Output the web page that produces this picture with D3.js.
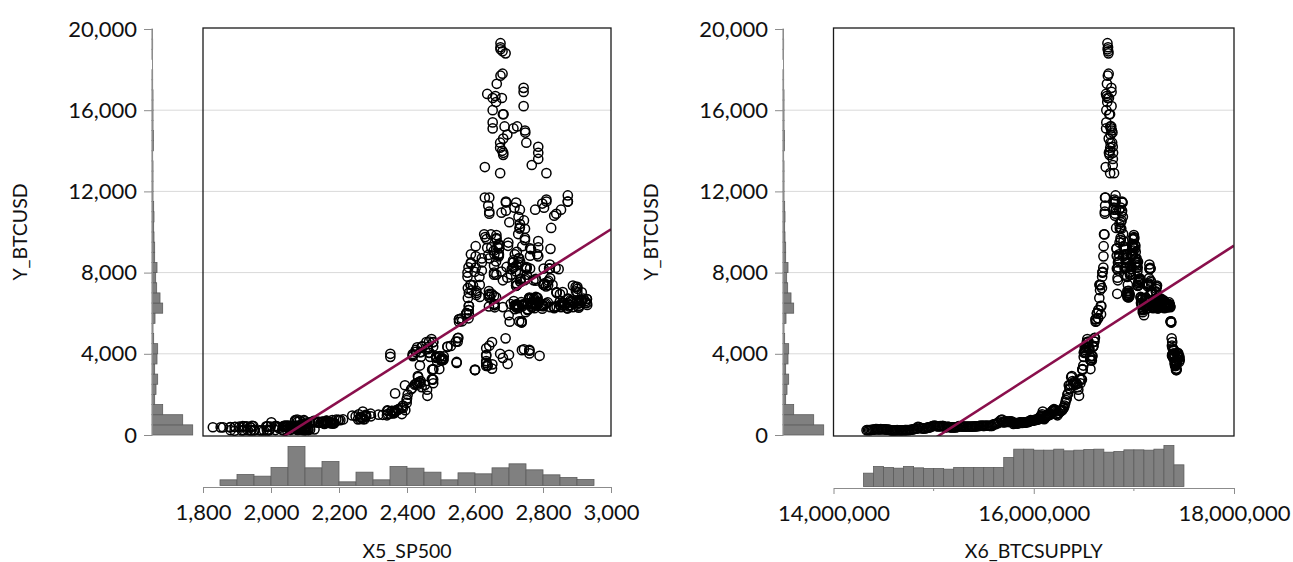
<!DOCTYPE html>
<html>
<head>
<meta charset="utf-8">
<script src="https://cdn.jsdelivr.net/npm/d3@7"></script>
<style>
    body { margin: 0; background: #fff; }
    svg { display: block; }
</style>
</head>
<body>
<div id="container"><svg></svg></div>
<script>
let width = 1293
let height = 562
let fontFamily = 'Lato'

// observations: [btc supply (millions of coins), S&P 500, BTC/USD]
let obs = [
    [14.330, 2096, 236], [14.343, 2100, 246], [14.356, 2110, 244], [14.369, 2102, 243], [14.382, 2058, 257],
    [14.395, 2077, 260], [14.408, 2046, 269], [14.421, 2077, 293], [14.434, 2108, 286], [14.447, 2128, 278],
    [14.460, 2115, 276], [14.473, 2090, 289], [14.486, 2109, 284], [14.498, 2104, 283],
    [14.508, 2099, 282], [14.521, 2083, 279], [14.534, 2104, 263], [14.547, 2091, 264], [14.560, 2079, 254],
    [14.573, 2035, 233], [14.586, 1893, 210], [14.595, 1940, 222], [14.605, 1988, 229], [14.612, 1972, 230],
    [14.622, 1914, 228], [14.635, 1951, 240], [14.648, 1942, 235], [14.661, 1979, 229], [14.674, 1995, 232],
    [14.687, 1966, 230], [14.700, 1932, 235], [14.713, 1881, 238], [14.720, 1920, 236],
    [14.730, 1951, 238], [14.743, 1995, 246], [14.756, 2013, 244], [14.769, 1994, 255], [14.782, 2033, 264],
    [14.795, 2075, 284], [14.808, 2065, 294], [14.821, 2089, 314], [14.833, 2079, 312],
    [14.843, 2102, 402], [14.856, 2099, 385], [14.869, 2081, 337], [14.882, 2023, 336], [14.895, 2051, 318],
    [14.908, 2089, 326], [14.921, 2086, 323], [14.934, 2090, 357], [14.942, 2080, 378],
    [14.952, 2102, 363], [14.965, 2049, 389], [14.978, 2047, 415], [14.991, 2012, 433], [15.004, 2043, 462],
    [15.017, 2038, 455], [15.030, 2060, 439], [15.043, 2078, 422], [15.055, 2044, 430],
    [15.065, 2016, 433], [15.078, 1990, 431], [15.091, 1944, 452], [15.104, 1922, 431], [15.117, 1880, 386],
    [15.130, 1859, 380], [15.143, 1907, 408], [15.156, 1893, 394], [15.168, 1940, 379],
    [15.178, 1939, 372], [15.191, 1913, 376], [15.204, 1880, 379], [15.217, 1852, 377], [15.228, 1829, 381],
    [15.240, 1895, 403], [15.253, 1917, 438], [15.263, 1929, 423], [15.273, 1948, 436],
    [15.283, 1986, 424], [15.296, 1999, 410], [15.309, 1989, 412], [15.322, 2019, 415], [15.335, 2040, 418],
    [15.348, 2049, 418], [15.361, 2035, 414], [15.374, 2056, 416], [15.386, 2063, 416],
    [15.396, 2066, 419], [15.409, 2041, 421], [15.422, 2061, 424], [15.435, 2082, 431], [15.448, 2102, 443],
    [15.461, 2091, 447], [15.474, 2095, 460], [15.487, 2075, 455], [15.495, 2065, 450],
    [15.505, 2081, 448], [15.518, 2051, 460], [15.531, 2058, 455], [15.544, 2064, 457], [15.557, 2047, 454],
    [15.570, 2040, 443], [15.583, 2076, 447], [15.596, 2090, 528], [15.608, 2097, 530],
    [15.618, 2105, 537], [15.631, 2099, 575], [15.644, 2116, 581], [15.657, 2079, 665], [15.670, 2071, 730],
    [15.683, 2077, 763], [15.696, 2113, 628], [15.706, 2001, 623], [15.716, 2071, 672],
    [15.724, 2099, 677], [15.734, 2129, 650], [15.744, 2137, 649], [15.752, 2152, 650], [15.760, 2163, 668],
    [15.768, 2173, 664], [15.775, 2165, 658], [15.783, 2166, 655], [15.790, 2174, 624],
    [15.797, 2157, 547], [15.804, 2182, 588], [15.811, 2181, 592], [15.818, 2185, 586], [15.825, 2186, 575],
    [15.832, 2178, 581], [15.839, 2182, 577], [15.846, 2175, 575],
    [15.855, 2180, 598], [15.862, 2127, 621], [15.869, 2147, 606], [15.876, 2139, 610], [15.883, 2164, 597],
    [15.890, 2163, 603], [15.897, 2146, 606], [15.904, 2168, 608],
    [15.912, 2161, 612], [15.919, 2153, 617], [15.926, 2163, 637], [15.933, 2133, 640], [15.940, 2140, 630],
    [15.947, 2141, 651], [15.954, 2151, 657], [15.961, 2126, 703],
    [15.970, 2097, 730], [15.977, 2085, 710], [15.984, 2163, 706], [15.991, 2164, 702], [15.998, 2180, 737],
    [16.005, 2198, 739], [16.012, 2204, 733], [16.019, 2199, 742],
    [16.026, 2192, 764], [16.033, 2212, 766], [16.040, 2256, 770], [16.047, 2271, 781], [16.054, 2262, 790],
    [16.061, 2263, 871], [16.068, 2249, 922], [16.075, 2239, 961],
    [16.083, 2258, 1020], [16.090, 2270, 1150], [16.097, 2277, 905], [16.104, 2275, 780], [16.111, 2268, 830],
    [16.118, 2264, 895], [16.125, 2280, 925], [16.132, 2294, 920], [16.136, 2279, 968],
    [16.142, 2279, 990], [16.149, 2293, 1050], [16.156, 2316, 1000], [16.163, 2329, 995], [16.170, 2351, 1050],
    [16.177, 2365, 1120], [16.184, 2364, 1175], [16.189, 2363, 1190],
    [16.195, 2395, 1225], [16.202, 2375, 1270], [16.209, 2364, 1180], [16.216, 2373, 1240], [16.223, 2385, 1030],
    [16.230, 2344, 1040], [16.237, 2341, 970], [16.244, 2362, 1070],
    [16.252, 2359, 1080], [16.259, 2355, 1190], [16.266, 2356, 1180], [16.273, 2344, 1190], [16.280, 2342, 1210],
    [16.287, 2374, 1240], [16.294, 2388, 1325], [16.301, 2384, 1350],
    [16.308, 2388, 1450], [16.315, 2399, 1580], [16.322, 2399, 1720], [16.329, 2400, 1800], [16.336, 2402, 1990],
    [16.343, 2365, 2050], [16.350, 2394, 2450], [16.357, 2415, 2300], [16.361, 2412, 2250],
    [16.367, 2431, 2480], [16.374, 2433, 2850], [16.381, 2432, 2900], [16.388, 2440, 2660], [16.395, 2453, 2470],
    [16.402, 2435, 2610], [16.409, 2439, 2570], [16.416, 2423, 2480],
    [16.424, 2429, 2560], [16.431, 2425, 2510], [16.438, 2443, 2360], [16.445, 2459, 2230], [16.452, 2460, 1930],
    [16.459, 2473, 2750], [16.466, 2477, 2550], [16.473, 2475, 2740],
    [16.481, 2477, 2730], [16.488, 2474, 3220], [16.495, 2438, 3420], [16.502, 2464, 4050], [16.509, 2430, 4320],
    [16.516, 2438, 4080], [16.523, 2444, 4350], [16.530, 2457, 4580], [16.535, 2472, 4730],
    [16.540, 2477, 4570], [16.547, 2465, 4600], [16.554, 2461, 4230], [16.561, 2496, 3870], [16.566, 2495, 3250],
    [16.573, 2503, 3690], [16.580, 2508, 3880], [16.587, 2497, 3890], [16.591, 2519, 4340],
    [16.597, 2529, 4390], [16.604, 2544, 4600], [16.611, 2551, 4790], [16.618, 2553, 5580], [16.625, 2562, 5600],
    [16.632, 2575, 5990], [16.639, 2560, 5750], [16.646, 2581, 6150],
    [16.655, 2579, 6750], [16.662, 2590, 7130], [16.669, 2594, 7380], [16.675, 2582, 6350], [16.681, 2579, 7240],
    [16.688, 2599, 8040], [16.695, 2602, 8250], [16.702, 2627, 9890], [16.706, 2647, 9880],
    [16.710, 2642, 10900], [16.713, 2639, 11300], [16.716, 2629, 11700], [16.719, 2629, 13200], [16.722, 2636, 16800],
    [16.725, 2652, 16000], [16.728, 2660, 16700], [16.731, 2664, 17300], [16.734, 2662, 16400], [16.737, 2652, 16600],
    [16.740, 2675, 17700], [16.742, 2675, 19100], [16.744, 2681, 18900], [16.746, 2690, 18800], [16.748, 2681, 17800],
    [16.751, 2679, 16600], [16.754, 2684, 15800], [16.757, 2683, 13800], [16.760, 2680, 14000], [16.762, 2682, 15800],
    [16.764, 2687, 15200], [16.766, 2674, 14400],
    [16.768, 2695, 14800], [16.771, 2713, 15100], [16.774, 2724, 15200], [16.777, 2743, 16900], [16.780, 2747, 15000],
    [16.783, 2751, 14400], [16.786, 2748, 14900], [16.789, 2767, 13300], [16.792, 2786, 13900], [16.797, 2777, 11100],
    [16.800, 2803, 11200], [16.803, 2798, 11400], [16.806, 2810, 11600], [16.811, 2833, 10800], [16.814, 2839, 10900],
    [16.817, 2873, 11500], [16.820, 2853, 11100], [16.823, 2824, 10200],
    [16.826, 2822, 9170], [16.829, 2762, 8830], [16.834, 2649, 6955], [16.837, 2695, 7750], [16.840, 2682, 7620],
    [16.843, 2581, 8260], [16.846, 2620, 8700], [16.851, 2657, 8900], [16.854, 2662, 8550], [16.857, 2698, 9480],
    [16.860, 2731, 10170], [16.863, 2732, 10230], [16.868, 2716, 11200], [16.871, 2701, 10480], [16.874, 2747, 10160],
    [16.877, 2744, 10570],
    [16.879, 2678, 10950], [16.882, 2691, 11050], [16.887, 2721, 11450], [16.890, 2728, 10750], [16.893, 2727, 9900],
    [16.896, 2739, 9300], [16.899, 2786, 9240], [16.904, 2783, 8900], [16.907, 2765, 9150], [16.910, 2750, 8200],
    [16.913, 2748, 8250], [16.916, 2752, 8270], [16.921, 2712, 8600], [16.924, 2717, 8900], [16.927, 2643, 8700],
    [16.930, 2588, 8900], [16.933, 2613, 7790], [16.935, 2641, 7090],
    [16.937, 2582, 7000], [16.940, 2614, 7400], [16.943, 2644, 6800], [16.946, 2662, 6780], [16.949, 2604, 6900],
    [16.952, 2614, 6800], [16.955, 2656, 6850], [16.958, 2642, 6950], [16.961, 2663, 7900], [16.964, 2656, 7900],
    [16.967, 2678, 8050], [16.970, 2706, 7900], [16.973, 2708, 8170], [16.976, 2693, 8280], [16.979, 2670, 8860],
    [16.982, 2670, 8930], [16.985, 2634, 9650], [16.988, 2639, 8870], [16.990, 2666, 9280], [16.992, 2648, 9240],
    [16.995, 2655, 9080], [16.998, 2636, 9220], [17.001, 2630, 9750], [17.004, 2663, 9700], [17.009, 2672, 9370],
    [17.012, 2671, 9190], [17.015, 2697, 9320], [17.018, 2723, 9020], [17.021, 2728, 8400], [17.026, 2730, 8700],
    [17.029, 2711, 8500], [17.032, 2722, 8350], [17.035, 2720, 8060], [17.038, 2713, 8240], [17.041, 2733, 8530],
    [17.044, 2733, 7560], [17.047, 2721, 7480], [17.050, 2724, 7400],
    [17.053, 2734, 7540], [17.056, 2746, 7630], [17.059, 2749, 7700], [17.062, 2772, 7620], [17.065, 2779, 7690],
    [17.068, 2783, 6770], [17.071, 2786, 6500], [17.074, 2775, 6640], [17.077, 2780, 6400], [17.080, 2774, 6730],
    [17.083, 2762, 6720], [17.086, 2767, 6750], [17.089, 2749, 6050], [17.092, 2755, 6180], [17.095, 2717, 6200],
    [17.098, 2723, 6270], [17.101, 2699, 5900], [17.104, 2716, 6390], [17.107, 2718, 6400],
    [17.110, 2727, 6350], [17.113, 2714, 6600], [17.116, 2736, 6550], [17.119, 2760, 6770], [17.122, 2784, 6740],
    [17.125, 2794, 6360], [17.128, 2775, 6250], [17.131, 2798, 6220], [17.134, 2801, 6360], [17.137, 2798, 6390],
    [17.140, 2809, 7320], [17.143, 2815, 7380], [17.146, 2804, 7470], [17.149, 2802, 7400], [17.152, 2821, 7720],
    [17.155, 2820, 8400], [17.158, 2846, 8170], [17.161, 2837, 8230], [17.164, 2818, 8200], [17.166, 2802, 8200],
    [17.168, 2816, 7600], [17.171, 2813, 7530], [17.174, 2828, 7400], [17.177, 2840, 7030], [17.180, 2850, 6940],
    [17.183, 2858, 7040], [17.186, 2857, 6540], [17.189, 2853, 6300], [17.192, 2833, 6250], [17.195, 2821, 6300],
    [17.198, 2840, 6320], [17.201, 2850, 6590], [17.204, 2857, 6390], [17.207, 2862, 6490], [17.210, 2857, 6480],
    [17.213, 2862, 6380], [17.216, 2874, 6720], [17.219, 2897, 7080], [17.222, 2914, 7030],
    [17.225, 2901, 7030], [17.228, 2896, 7300], [17.231, 2888, 7360], [17.234, 2878, 6400], [17.237, 2872, 6500],
    [17.240, 2877, 6330], [17.243, 2871, 6240], [17.246, 2888, 6300], [17.249, 2904, 6330], [17.252, 2905, 6270],
    [17.255, 2888, 6500], [17.258, 2904, 6490], [17.261, 2907, 6370], [17.264, 2930, 6410], [17.267, 2929, 6500],
    [17.270, 2919, 6720], [17.273, 2906, 6590], [17.276, 2905, 6480], [17.279, 2914, 6660], [17.281, 2914, 6600],
    [17.284, 2924, 6590], [17.287, 2925, 6520], [17.290, 2901, 6580], [17.293, 2885, 6570], [17.296, 2884, 6600],
    [17.299, 2880, 6630], [17.302, 2785, 6560], [17.305, 2728, 6250], [17.308, 2767, 6310], [17.311, 2750, 6470],
    [17.314, 2809, 6480], [17.317, 2768, 6490], [17.320, 2768, 6460], [17.323, 2755, 6500], [17.326, 2741, 6430],
    [17.329, 2656, 6460], [17.332, 2705, 6450], [17.335, 2658, 6290], [17.337, 2641, 6330], [17.339, 2682, 6300],
    [17.341, 2740, 6350], [17.344, 2723, 6390], [17.347, 2738, 6410], [17.350, 2756, 6440], [17.353, 2814, 6530],
    [17.356, 2806, 6430], [17.359, 2781, 6380], [17.362, 2727, 6330], [17.365, 2722, 6300], [17.368, 2702, 5580],
    [17.371, 2730, 5600], [17.374, 2737, 5540], [17.377, 2690, 4760], [17.380, 2642, 4400], [17.383, 2650, 4580],
    [17.386, 2633, 4270], [17.389, 2674, 4000], [17.392, 2682, 3800], [17.395, 2744, 4220], [17.398, 2738, 4180],
    [17.401, 2760, 4020],
    [17.404, 2790, 3900], [17.406, 2700, 3950], [17.409, 2696, 3500], [17.412, 2633, 3400], [17.415, 2637, 3450],
    [17.418, 2637, 3400], [17.421, 2651, 3480], [17.424, 2650, 3270], [17.427, 2600, 3200], [17.430, 2546, 3550],
    [17.433, 2546, 3600], [17.436, 2507, 3750], [17.439, 2467, 4050], [17.442, 2417, 3880], [17.445, 2351, 4000],
    [17.447, 2351, 3850], [17.450, 2468, 3850], [17.452, 2489, 3600], [17.455, 2486, 3850], [17.458, 2507, 3700]
]

// weekend observations (S&P 500 carried from the Friday close)
let obsWeekend = [
    [16.486, 2477, 3250], [16.487, 2477, 3220], [16.499, 2441, 3850], [16.501, 2441, 4080], [16.512, 2426, 4190],
    [16.514, 2426, 4090], [16.525, 2444, 4350], [16.527, 2444, 4360],
    [16.539, 2477, 4580], [16.541, 2477, 4350], [16.552, 2461, 4330], [16.554, 2461, 4250], [16.565, 2500, 3700],
    [16.567, 2500, 3700], [16.578, 2502, 3780], [16.580, 2502, 3670], [16.592, 2519, 4360],
    [16.604, 2549, 4600], [16.606, 2549, 4770], [16.617, 2553, 5700], [16.619, 2553, 5700], [16.631, 2575, 6000],
    [16.633, 2575, 6000], [16.644, 2581, 5750], [16.646, 2581, 6150],
    [16.657, 2587, 7400], [16.659, 2587, 7400], [16.670, 2582, 6360], [16.672, 2582, 5950], [16.683, 2578, 7800],
    [16.685, 2578, 8000], [16.696, 2602, 8800], [16.698, 2602, 9300],
    [16.710, 2642, 11000], [16.712, 2642, 11700], [16.723, 2652, 15100], [16.725, 2652, 15400], [16.736, 2675, 19300],
    [16.738, 2675, 19000], [16.749, 2683, 14600], [16.751, 2683, 13900], [16.763, 2674, 12900], [16.764, 2674, 14150],
    [16.775, 2743, 17100], [16.777, 2743, 16200], [16.789, 2786, 14200], [16.790, 2786, 13600], [16.802, 2810, 12900],
    [16.804, 2810, 11500], [16.815, 2873, 11500], [16.817, 2873, 11800],
    [16.828, 2762, 9200], [16.830, 2762, 8200], [16.841, 2620, 8500], [16.843, 2620, 8100], [16.854, 2732, 11100],
    [16.856, 2732, 10400], [16.867, 2747, 9700], [16.869, 2747, 9600],
    [16.881, 2691, 11500], [16.883, 2691, 11450], [16.894, 2786, 8800], [16.896, 2786, 9550], [16.907, 2752, 7900],
    [16.909, 2752, 8200], [16.920, 2588, 8500], [16.922, 2588, 8450], [16.933, 2641, 6900],
    [16.935, 2641, 6800], [16.946, 2604, 7000], [16.948, 2604, 7100], [16.959, 2656, 8000], [16.961, 2656, 8350],
    [16.973, 2670, 8900], [16.975, 2670, 8800], [16.986, 2669, 9350], [16.988, 2669, 9400],
    [17.000, 2663, 9850], [17.001, 2663, 9650], [17.013, 2728, 8500], [17.015, 2728, 8700], [17.026, 2713, 8250],
    [17.028, 2713, 8500], [17.039, 2721, 7350], [17.041, 2721, 7360],
    [17.052, 2734, 7650], [17.054, 2734, 7700], [17.065, 2779, 7600], [17.067, 2779, 6800], [17.078, 2780, 6500],
    [17.080, 2780, 6450], [17.091, 2755, 6150], [17.093, 2755, 6200], [17.105, 2718, 6380],
    [17.107, 2718, 6350], [17.118, 2759, 6750], [17.120, 2759, 6700], [17.131, 2801, 6350], [17.133, 2801, 6400],
    [17.145, 2802, 7400], [17.147, 2802, 7400], [17.158, 2819, 8200], [17.160, 2819, 8200],
    [17.171, 2840, 7030], [17.173, 2840, 7000], [17.184, 2833, 6300], [17.186, 2833, 6320], [17.197, 2850, 6590],
    [17.199, 2850, 6400], [17.210, 2874, 6700], [17.212, 2874, 6700],
    [17.223, 2901, 7200], [17.225, 2901, 7300], [17.236, 2872, 6250], [17.238, 2872, 6250], [17.249, 2905, 6500],
    [17.251, 2905, 6500], [17.263, 2929, 6700], [17.264, 2929, 6700], [17.276, 2914, 6600], [17.278, 2914, 6620],
    [17.289, 2885, 6600], [17.291, 2885, 6600], [17.303, 2767, 6300], [17.304, 2767, 6300], [17.316, 2768, 6480],
    [17.318, 2768, 6490], [17.329, 2658, 6400], [17.331, 2658, 6400],
    [17.342, 2723, 6400], [17.344, 2723, 6450], [17.355, 2781, 6380], [17.357, 2781, 6410], [17.368, 2737, 5600],
    [17.370, 2737, 5560], [17.381, 2633, 3900], [17.383, 2633, 3950],
    [17.395, 2760, 4200], [17.397, 2760, 4150], [17.408, 2633, 3550], [17.410, 2633, 3640], [17.421, 2600, 3200],
    [17.423, 2600, 3220], [17.435, 2417, 3990], [17.436, 2417, 3930], [17.448, 2486, 3870], [17.450, 2486, 3800]
]

// axis ticks
let yTicks = [0, 4000, 8000, 12000, 16000, 20000]
let spTicks = [1800, 2000, 2200, 2400, 2600, 2800, 3000]
let supplyTicks = [14000000, 16000000, 18000000]
let supplyMinorTicks = [15000000, 17000000]

// marginal histograms (counts)
let btcBinStart = 0, btcBinWidth = 500
let btcHist = [122, 92, 32, 8, 12, 17, 8, 15, 17, 5, 3, 9, 32, 24, 14, 11, 15, 8, 8, 6, 5, 6, 5, 3,
               3, 3, 3, 2, 4, 4, 3, 3, 3, 3, 2, 2, 0, 1, 2, 1]
let spBinStart = 1850, spBinWidth = 50
let spHist = [17, 33, 28, 54, 117, 53, 72, 11, 40, 17, 57, 52, 40, 17, 38, 35, 53, 65, 47, 32, 24, 18]
let supplyBinStart = 14300000, supplyBinWidth = 100000
let supplyHist = [40, 60, 57, 55, 60, 56, 54, 54, 52, 57, 57, 57, 57, 57, 87, 112, 112, 109, 109, 112,
                  107, 109, 111, 112, 103, 105, 110, 110, 109, 112, 123, 65]

// fitted lines [intercept, slope]
let fitSP500 = [-21666, 10.60]
let fitSupply = [-47822, 3175]   // slope per million coins

let allObs = obs.concat(obsWeekend)

let svg = d3.select('#container').select('svg')
    .attr('width', width)
    .attr('height', height)
    .style('font-family', fontFamily)

let y = d3.scaleLinear().domain([0, 20000]).range([435, 29])
let boxTop = 28, boxBottom = 436

function draw_panel(p) {
    let g = svg.append('g')
    let x = d3.scaleLinear().domain(p.xDomain).range([p.boxLeft, p.boxRight])

    // gridlines
    g.append('g').selectAll('line')
        .data(yTicks.filter(d => d > 0 && d < 20000))
        .enter().append('line')
        .attr('x1', p.axisX).attr('x2', p.boxRight)
        .attr('y1', d => y(d)).attr('y2', d => y(d))
        .attr('stroke', '#d9d9d9').attr('stroke-width', 1)

    // y marginal histogram
    let hy = d3.scaleLinear().domain([0, d3.max(btcHist)]).range([0, 40.7])
    g.append('g').selectAll('rect')
        .data(btcHist)
        .enter().append('rect')
        .attr('x', p.axisX)
        .attr('y', (d, i) => y(btcBinStart + (i + 1) * btcBinWidth))
        .attr('width', d => hy(d))
        .attr('height', (d, i) => y(btcBinStart + i * btcBinWidth) - y(btcBinStart + (i + 1) * btcBinWidth))
        .attr('fill', '#808080')
        .attr('stroke', d => d > 0 ? '#5c5c5c' : 'none')
        .attr('stroke-width', 0.8)

    // y axis
    let axis_y = d3.axisLeft(y).tickValues(yTicks).tickSize(8).tickSizeOuter(0).tickPadding(7)
        .tickFormat(d3.format(','))
    let ay = g.append('g')
        .attr('transform', `translate(${p.axisX}, 0)`)
        .call(axis_y)
        .attr('font-family', fontFamily)
        .attr('font-size', '22px')
    ay.select('.domain').attr('stroke', '#8c8c8c')
    ay.selectAll('.tick line').attr('stroke', '#8c8c8c')
    ay.selectAll('.tick text').attr('fill', '#111')

    g.append('text')
        .attr('transform', `translate(${p.axisX - 125}, ${(y(0) + y(20000)) / 2}) rotate(-90)`)
        .attr('text-anchor', 'middle')
        .attr('font-size', '19.5px')
        .attr('fill', '#111')
        .text('Y_BTCUSD')

    // x marginal histogram
    let hx = d3.scaleLinear().domain([0, d3.max(p.hist)]).range([0, p.histMax])
    g.append('g').selectAll('rect')
        .data(p.hist)
        .enter().append('rect')
        .attr('x', (d, i) => x(p.binStart + i * p.binWidth))
        .attr('y', d => p.axisY - 1.5 - hx(d))
        .attr('width', (d, i) => x(p.binStart + (i + 1) * p.binWidth) - x(p.binStart + i * p.binWidth))
        .attr('height', d => hx(d))
        .attr('fill', '#808080')
        .attr('stroke', '#5c5c5c')
        .attr('stroke-width', 0.8)

    // x axis
    let axis_x = d3.axisBottom(x).tickValues(p.ticks).tickSize(6).tickSizeOuter(0).tickPadding(11.5)
        .tickFormat(d3.format(','))
    let ax = g.append('g')
        .attr('transform', `translate(0, ${p.axisY})`)
        .call(axis_x)
        .attr('font-family', fontFamily)
        .attr('font-size', '22px')
    ax.select('.domain').attr('stroke', '#8c8c8c')
    ax.selectAll('.tick line').attr('stroke', '#8c8c8c')
    ax.selectAll('.tick text').attr('fill', '#111')
    ax.selectAll('.minor')
        .data(p.minorTicks)
        .enter().append('line')
        .attr('class', 'minor')
        .attr('x1', d => x(d)).attr('x2', d => x(d))
        .attr('y1', 0).attr('y2', 3)
        .attr('stroke', '#8c8c8c')

    g.append('text')
        .attr('x', (p.boxLeft + p.boxRight) / 2)
        .attr('y', 558)
        .attr('text-anchor', 'middle')
        .attr('font-size', '19.5px')
        .attr('fill', '#111')
        .text(p.xLabel)

    // scatter + fitted line, clipped to the box
    g.append('clipPath').attr('id', 'clip' + p.id)
        .append('rect')
        .attr('x', p.boxLeft).attr('y', boxTop)
        .attr('width', p.boxRight - p.boxLeft).attr('height', boxBottom - boxTop)
    let inner = g.append('g').attr('clip-path', `url(#clip${p.id})`)

    inner.append('g').selectAll('circle')
        .data(allObs)
        .enter().append('circle')
        .attr('cx', d => x(p.getX(d)))
        .attr('cy', d => y(d[2]))
        .attr('r', 4.6)
        .attr('fill', 'none')
        .attr('stroke', '#000')
        .attr('stroke-width', 1.5)

    let line = d3.line().x(d => x(d)).y(d => y(p.fit[0] + p.fit[1] * d / p.fitUnit))
    inner.append('path')
        .datum(p.xDomain)
        .attr('d', line)
        .attr('fill', 'none')
        .attr('stroke', '#8a0f4c')
        .attr('stroke-width', 2.6)

    g.append('rect')
        .attr('x', p.boxLeft).attr('y', boxTop)
        .attr('width', p.boxRight - p.boxLeft).attr('height', boxBottom - boxTop)
        .attr('fill', 'none')
        .attr('stroke', '#1a1a1a')
        .attr('stroke-width', 1.3)
}

draw_panel({
    id: 5, axisX: 152, boxLeft: 203, boxRight: 611, axisY: 487,
    xDomain: [1800, 3000], ticks: spTicks, minorTicks: [],
    hist: spHist, binStart: spBinStart, binWidth: spBinWidth, histMax: 39,
    xLabel: 'X5_SP500', getX: d => d[1], fit: fitSP500, fitUnit: 1
})

draw_panel({
    id: 6, axisX: 783, boxLeft: 833.5, boxRight: 1234, axisY: 488,
    xDomain: [14000000, 18000000], ticks: supplyTicks, minorTicks: supplyMinorTicks,
    hist: supplyHist, binStart: supplyBinStart, binWidth: supplyBinWidth, histMax: 41,
    xLabel: 'X6_BTCSUPPLY', getX: d => d[0] * 1000000, fit: fitSupply, fitUnit: 1000000
})
</script>
</body>
</html>
